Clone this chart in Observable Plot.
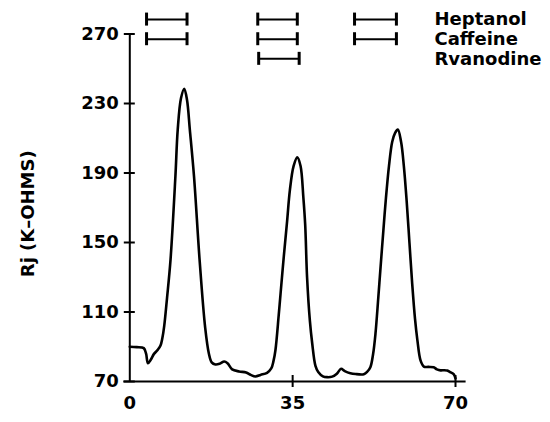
<!DOCTYPE html>
<html>
<head>
<meta charset="utf-8">
<script src="https://cdn.jsdelivr.net/npm/d3@7"></script>
<script src="https://cdn.jsdelivr.net/npm/@observablehq/plot@0.6"></script>
<style>
  html, body { margin: 0; padding: 0; background: #fff; }
</style>
</head>
<body>
<div id="chart"></div>
<script>
// ---- data ----
const time = [0, 1.5, 3.0, 3.5, 3.9, 4.5, 5.2, 6.0, 6.6, 7.0, 7.4, 8.0, 8.75, 9.8, 10.3, 11.0, 11.7, 12.3, 12.9, 13.8, 15.0, 16.2, 17.0, 17.6, 18.4, 19.3, 20.3, 21.0, 22.0, 23.5, 25.0, 26.0, 27.0, 28.1, 29.5, 30.4, 30.9, 31.3, 32.0, 32.4, 33.1, 33.8, 34.4, 35.2, 36.0, 36.7, 37.3, 37.7, 38.1, 38.7, 39.2, 39.9, 40.5, 41.5, 42.4, 43.5, 44.5, 45.4, 46.2, 47.4, 48.5, 50.3, 51.0, 51.7, 52.3, 52.8, 53.4, 53.9, 54.5, 55.0, 55.7, 56.4, 57.0, 57.6, 58.3, 58.9, 59.5, 60.1, 60.7, 61.3, 61.8, 62.5, 63.2, 64.2, 65.3, 66.0, 66.8, 67.6, 68.2, 69.0, 69.6, 70.0];
const rj = [90, 89.8, 89.2, 86, 80.5, 82.5, 85.9, 88.2, 90.7, 95, 102, 118, 140, 188, 215, 233, 238.5, 232, 215, 188, 140, 101, 86, 81, 79.8, 80.2, 81.5, 80.5, 77, 75.8, 75.2, 73.8, 72.9, 73.8, 75, 77.5, 82, 88, 108, 120.5, 142, 162, 180, 194, 199, 194, 176, 160, 130, 105, 92, 79, 75.5, 73, 72.5, 72.8, 74.5, 77.3, 76, 74.8, 74.3, 74.2, 75.5, 78.2, 86, 97.5, 118, 136, 157, 174, 194, 208, 213, 215, 208, 194, 174, 150, 126, 106, 94, 82, 78.6, 78.4, 78.2, 77, 76.4, 76.5, 76.3, 75.2, 74.2, 71.8];

const agents = ["Heptanol", "Caffeine", "Rvanodine"];
const heptanolIntervals = [[3.6, 12.3], [27.5, 36.0], [48.3, 57.3]];
const caffeineIntervals = [[3.6, 12.3], [27.5, 36.0], [48.3, 57.3]];
const ryanodineIntervals = [[27.7, 36.4]];

const xTicks = [0, 35, 70];
const yTicks = [70, 110, 150, 190, 230, 270];
const yLabel = "Rj (K\u2013OHMS)";

// ---- derived tables ----
const curveData = time.map((t, i) => ({t, r: rj[i]}));
const intervalsByAgent = [heptanolIntervals, caffeineIntervals, ryanodineIntervals];
const rowTop = 278.3, rowStep = 11.3; // layout of the treatment rows above the plot
const rows = agents.map((a, i) => ({agent: a, level: rowTop - i * rowStep}));
const bars = [];
intervalsByAgent.forEach((ivs, i) => ivs.forEach(([s, e]) => bars.push({level: rows[i].level, start: s, end: e})));
const caps = bars.flatMap(b => [{level: b.level, x: b.start}, {level: b.level, x: b.end}]);

const chart = Plot.plot({
  width: 550,
  height: 422,
  marginLeft: 129.3,
  marginRight: 95,
  marginTop: 33.5,
  marginBottom: 41,
  x: {domain: [0, 70]},
  y: {domain: [70, 270]},
  style: {fontFamily: "DejaVu Sans", fontSize: "18px", fontWeight: "bold", color: "#000", background: "#fff"},
  marks: [
    Plot.axisY(yTicks, {tickSize: 0, tickPadding: 11, label: null}),
    Plot.axisX(xTicks, {tickSize: 0, tickPadding: 15, label: null}),
    Plot.ruleX([0], {y1: 70, y2: 270, stroke: "#000", strokeWidth: 2}),
    Plot.ruleY([70], {x1: 0, x2: 70, insetLeft: -6, insetRight: -10.6, stroke: "#000", strokeWidth: 2}),
    Plot.ruleY(yTicks, {x1: 0, x2: 0, insetLeft: -5.5, insetRight: -5.5, stroke: "#000", strokeWidth: 2}),
    Plot.ruleX(xTicks.slice(1), {y1: 70, y2: 70, insetTop: -6, insetBottom: -6, stroke: "#000", strokeWidth: 2}),
    Plot.line(curveData, {x: "t", y: "r", curve: "catmull-rom", stroke: "#000", strokeWidth: 2.6}),
    Plot.ruleY(bars, {y: "level", x1: "start", x2: "end", stroke: "#000", strokeWidth: 2}),
    Plot.ruleX(caps, {x: "x", y1: "level", y2: "level", insetTop: -6.5, insetBottom: -6.5, stroke: "#000", strokeWidth: 3}),
    Plot.text(rows, {y: "level", text: "agent", frameAnchor: "right", dx: -21, textAnchor: "start", fill: "#000"}),
    Plot.text([yLabel], {frameAnchor: "left", textAnchor: "middle", rotate: -90, dx: -102, dy: 6, fill: "#000"})
  ]
});
document.getElementById("chart").appendChild(chart);
</script>
</body>
</html>
